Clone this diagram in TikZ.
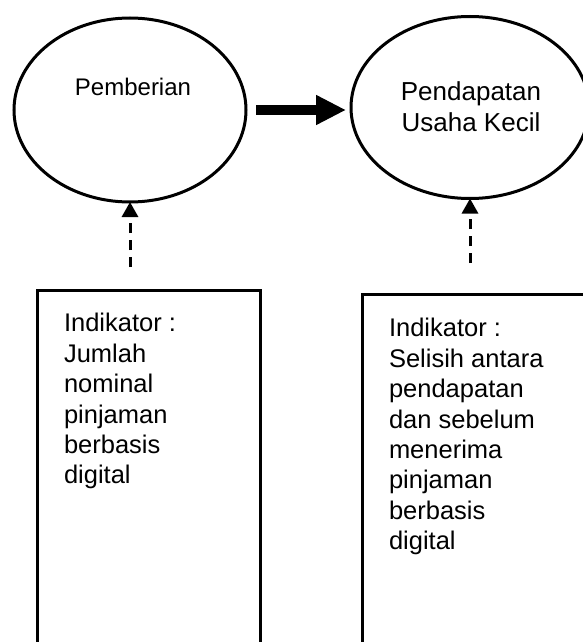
\documentclass[tikz,border=0pt]{standalone}
\usepackage{fontspec}
\setmainfont{Liberation Sans}
\usetikzlibrary{shapes.geometric,arrows.meta}
\begin{document}
\begin{tikzpicture}[x=1pt,y=-1pt,
  oval/.style={ellipse,draw,line width=3pt,inner sep=0pt,outer sep=0pt},
  boxstyle/.style={draw,line width=3pt,rectangle,inner sep=0pt,outer sep=0pt,anchor=north west},
  boxtext/.style={inner sep=0pt,outer sep=0pt,anchor=north west,align=left,font=\fontsize{25.5}{30.4}\selectfont},
  dasharrow/.style={line width=3pt,dash pattern=on 10pt off 7pt,-{Triangle[length=15pt,width=16pt]}},
  bigarrow/.style={line width=10pt,-{Triangle[length=30pt,width=28pt]}}]
\fill[white] (0,0) rectangle (583,642);
\useasboundingbox (0,0) rectangle (583,642);
\begin{scope}
\clip (0,0) rectangle (583,642);
% ovals
\node[oval,minimum width=232pt,minimum height=184pt] (L) at (130,110) {};
\node[oval,minimum width=238pt,minimum height=182pt] (R) at (470,107.5) {};
\node[inner sep=0pt,anchor=base,font=\fontsize{24}{28}\selectfont] (Ltext) at (133,95) {Pemberian};
\node[inner sep=0pt,anchor=north,align=center,font=\fontsize{26}{31}\selectfont] (Rtext) at (471,81) {Pendapatan\\Usaha Kecil};
% boxes
\node[boxstyle,minimum width=223pt,minimum height=420pt] (LB) at (37,290) {};
\node[boxstyle,minimum width=240pt,minimum height=420pt] (RB) at (362,294) {};
\node[boxtext] (LBtext) at (64,313.5) {Indikator :\\Jumlah\\nominal\\pinjaman\\berbasis\\digital};
\node[boxtext] (RBtext) at (389,318.5) {Indikator :\\Selisih antara\\pendapatan\\dan sebelum\\menerima\\pinjaman\\berbasis\\digital};
% connectors
\draw[bigarrow,shorten <=10pt,shorten >=5pt] (L.east) -- (L.east -| R.west);
\draw[dasharrow,shorten <=23pt] (LB.north -| L.south) -- (L.south);
\draw[dasharrow,shorten <=31pt] (RB.north -| R.south) -- (R.south);
\end{scope}
\end{tikzpicture}
\end{document}
